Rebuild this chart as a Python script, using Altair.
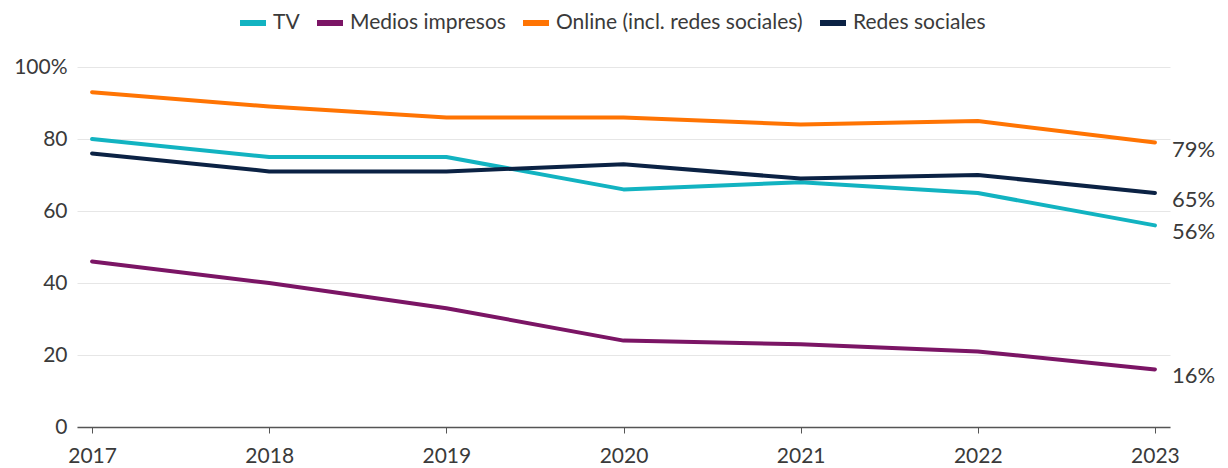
import altair as alt
import pandas as pd

years = ["2017", "2018", "2019", "2020", "2021", "2022", "2023"]
series_names = ["TV", "Medios impresos", "Online (incl. redes sociales)", "Redes sociales"]
tv = [80, 75, 75, 66, 68, 65, 56]
medios = [46, 40, 33, 24, 23, 21, 16]
online = [93, 89, 86, 86, 84, 85, 79]
redes = [76, 71, 71, 73, 69, 70, 65]
colors = ["#12b3c1", "#7b1565", "#ff7403", "#0b2244"]
y_ticks = [0, 20, 40, 60, 80, 100]

rows = []
for name, vals in zip(series_names, [tv, medios, online, redes]):
    for y, v in zip(years, vals):
        rows.append({"year": y, "serie": name, "value": v})
df = pd.DataFrame(rows)

FONT = "Lato"
TXT = "#3a3a3a"

x_enc = alt.X("year:O", scale=alt.Scale(type="point", padding=0.085),
              axis=alt.Axis(title=None, labelAngle=0, labelFontSize=21, labelColor=TXT,
                            labelFont=FONT, domainColor="#555555", domainWidth=1.5,
                            tickColor="#555555", tickSize=6, tickWidth=1, labelPadding=12,
                            grid=False))
y_enc = alt.Y("value:Q", scale=alt.Scale(domain=[0, 100], nice=False),
              axis=alt.Axis(title=None, values=y_ticks, domain=False, ticks=False,
                            labelFontSize=21, labelColor=TXT, labelFont=FONT,
                            labelPadding=10, gridColor="#e6e6e6", gridWidth=1,
                            labelExpr="datum.value == 100 ? '100%' : datum.label"))
color_enc = alt.Color("serie:N",
                      scale=alt.Scale(domain=series_names, range=colors),
                      legend=alt.Legend(title=None, orient="none", direction="horizontal",
                                        legendX=160, legendY=-60,
                                        symbolType="stroke", symbolSize=676,
                                        symbolStrokeWidth=6, labelFontSize=21,
                                        labelFont=FONT, labelColor=TXT, labelLimit=500,
                                        labelOffset=4, columnPadding=5))

lines = alt.Chart(df).mark_line(strokeWidth=4, strokeCap="round", strokeJoin="round").encode(
    x=x_enc, y=y_enc, color=color_enc,
    order=alt.Order("year:O"))

labels = alt.Chart(df).transform_filter(alt.datum.year == "2023").transform_calculate(
    lab="datum.value + '%'").mark_text(align="left", baseline="middle", dx=17, dy=7,
                                      fontSize=22, font=FONT, color=TXT).encode(
    x="year:O", y="value:Q", text="lab:N")

chart = alt.layer(lines, labels).properties(
    width=1093, height=360,
    autosize=alt.AutoSizeParams(type="none"),
    padding={"left": 69, "top": 59, "right": 50, "bottom": 41},
).configure_view(stroke=None)

chart.save("out.html", embed_options={"renderer": "svg", "actions": False})
